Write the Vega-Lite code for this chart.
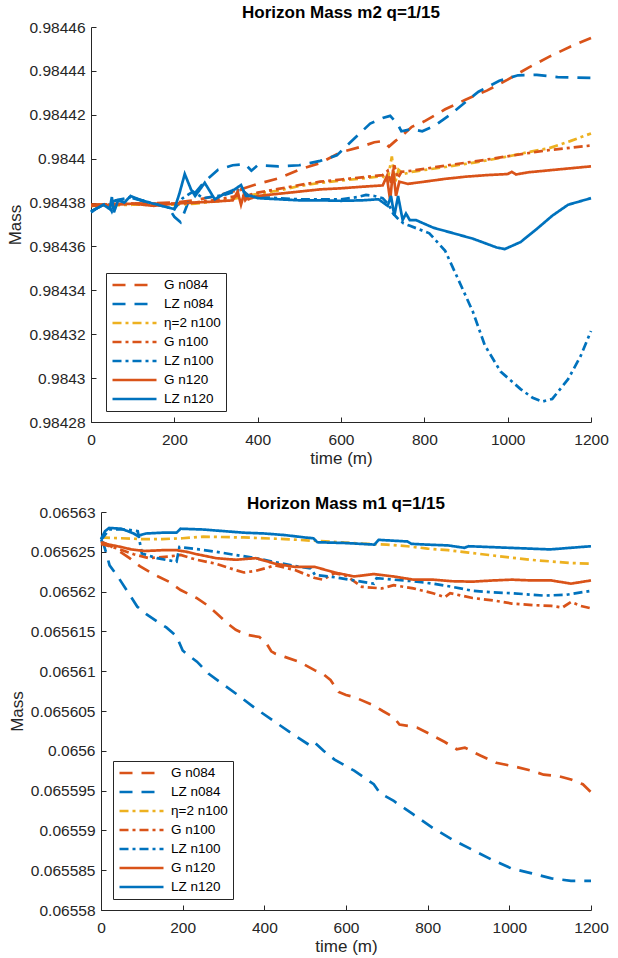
{
  "$schema": "https://vega.github.io/schema/vega-lite/v6.json",
  "background": "white",
  "padding": {"left": 6, "top": 4, "right": 8, "bottom": 4},
  "spacing": 28,
  "config": {
    "font": "Liberation Sans",
    "view": {"stroke": null},
    "axis": {
      "grid": false,
      "labelFlush": false,
      "domainColor": "#262626",
      "tickColor": "#262626",
      "labelColor": "#262626",
      "titleColor": "#262626",
      "labelFont": "Liberation Sans",
      "titleFont": "Liberation Sans",
      "labelFontSize": 15.5,
      "titleFontSize": 17,
      "titleFontWeight": "normal",
      "tickSize": -5,
      "domainWidth": 1,
      "tickWidth": 1
    },
    "title": {"font": "Liberation Sans", "fontSize": 17, "fontWeight": "bold", "color": "#000000"},
    "legend": {
      "title": null,
      "orient": "none",
      "symbolType": "M-1,0H7",
      "symbolSize": 121,
      "symbolStrokeWidth": 2.7,
      "labelFont": "Liberation Sans",
      "labelFontSize": 13.5,
      "labelColor": "#000000",
      "labelOffset": 39,
      "padding": 5,
      "rowPadding": 5,
      "strokeColor": "#262626",
      "fillColor": "white"
    },
    "line": {"strokeWidth": 2.7, "strokeCap": "butt", "clip": true}
  },
  "datasets": {
    "m2": [
      {"s":"G n084","t":0,"m":0.984379},{"s":"G n084","t":100,"m":0.9843795},{"s":"G n084","t":200,"m":0.98438},{"s":"G n084","t":250,"m":0.984381},{"s":"G n084","t":300,"m":0.984383},{"s":"G n084","t":350,"m":0.9843855},{"s":"G n084","t":400,"m":0.9843885},{"s":"G n084","t":450,"m":0.984391},{"s":"G n084","t":500,"m":0.984395},{"s":"G n084","t":550,"m":0.984398},{"s":"G n084","t":600,"m":0.984403},{"s":"G n084","t":650,"m":0.9844055},{"s":"G n084","t":680,"m":0.9844075},{"s":"G n084","t":700,"m":0.984408},{"s":"G n084","t":715,"m":0.9844055},{"s":"G n084","t":730,"m":0.984408},{"s":"G n084","t":750,"m":0.984411},{"s":"G n084","t":770,"m":0.9844145},{"s":"G n084","t":800,"m":0.984417},{"s":"G n084","t":850,"m":0.9844225},{"s":"G n084","t":900,"m":0.984427},{"s":"G n084","t":950,"m":0.984431},{"s":"G n084","t":1000,"m":0.984436},{"s":"G n084","t":1050,"m":0.9844415},{"s":"G n084","t":1100,"m":0.9844465},{"s":"G n084","t":1150,"m":0.984451},{"s":"G n084","t":1200,"m":0.984455},

      {"s":"LZ n084","t":0,"m":0.984376},{"s":"LZ n084","t":30,"m":0.984379},{"s":"LZ n084","t":60,"m":0.984381},{"s":"LZ n084","t":100,"m":0.984382},{"s":"LZ n084","t":150,"m":0.9843795},{"s":"LZ n084","t":185,"m":0.984378},{"s":"LZ n084","t":200,"m":0.9843735},{"s":"LZ n084","t":215,"m":0.984371},{"s":"LZ n084","t":235,"m":0.984381},{"s":"LZ n084","t":270,"m":0.984389},{"s":"LZ n084","t":305,"m":0.984395},{"s":"LZ n084","t":340,"m":0.984397},{"s":"LZ n084","t":370,"m":0.9843975},{"s":"LZ n084","t":385,"m":0.9843945},{"s":"LZ n084","t":400,"m":0.984397},{"s":"LZ n084","t":450,"m":0.9843965},{"s":"LZ n084","t":500,"m":0.984397},{"s":"LZ n084","t":550,"m":0.984399},{"s":"LZ n084","t":590,"m":0.9844015},{"s":"LZ n084","t":620,"m":0.984407},{"s":"LZ n084","t":670,"m":0.984416},{"s":"LZ n084","t":700,"m":0.9844185},{"s":"LZ n084","t":718,"m":0.9844195},{"s":"LZ n084","t":735,"m":0.984416},{"s":"LZ n084","t":745,"m":0.9844125},{"s":"LZ n084","t":770,"m":0.9844135},{"s":"LZ n084","t":795,"m":0.9844125},{"s":"LZ n084","t":825,"m":0.984415},{"s":"LZ n084","t":865,"m":0.9844205},{"s":"LZ n084","t":900,"m":0.984426},{"s":"LZ n084","t":930,"m":0.9844305},{"s":"LZ n084","t":980,"m":0.9844355},{"s":"LZ n084","t":1025,"m":0.984438},{"s":"LZ n084","t":1070,"m":0.9844382},{"s":"LZ n084","t":1120,"m":0.9844372},{"s":"LZ n084","t":1200,"m":0.9844368},

      {"s":"η=2 n100","t":0,"m":0.9843785},{"s":"η=2 n100","t":100,"m":0.984379},{"s":"η=2 n100","t":200,"m":0.984379},{"s":"η=2 n100","t":250,"m":0.9843795},{"s":"η=2 n100","t":300,"m":0.9843805},{"s":"η=2 n100","t":350,"m":0.984382},{"s":"η=2 n100","t":400,"m":0.984384},{"s":"η=2 n100","t":450,"m":0.9843855},{"s":"η=2 n100","t":500,"m":0.9843875},{"s":"η=2 n100","t":550,"m":0.984389},{"s":"η=2 n100","t":600,"m":0.98439},{"s":"η=2 n100","t":650,"m":0.984391},{"s":"η=2 n100","t":700,"m":0.984392},{"s":"η=2 n100","t":712,"m":0.98439},{"s":"η=2 n100","t":722,"m":0.984401},{"s":"η=2 n100","t":730,"m":0.984389},{"s":"η=2 n100","t":738,"m":0.984395},{"s":"η=2 n100","t":750,"m":0.984393},{"s":"η=2 n100","t":770,"m":0.984394},{"s":"η=2 n100","t":850,"m":0.9843962},{"s":"η=2 n100","t":930,"m":0.9843985},{"s":"η=2 n100","t":1000,"m":0.984401},{"s":"η=2 n100","t":1050,"m":0.984403},{"s":"η=2 n100","t":1100,"m":0.9844048},{"s":"η=2 n100","t":1150,"m":0.984408},{"s":"η=2 n100","t":1200,"m":0.9844115},

      {"s":"G n100","t":0,"m":0.984379},{"s":"G n100","t":100,"m":0.9843795},{"s":"G n100","t":200,"m":0.9843795},{"s":"G n100","t":250,"m":0.98438},{"s":"G n100","t":300,"m":0.9843812},{"s":"G n100","t":350,"m":0.984383},{"s":"G n100","t":360,"m":0.984386},{"s":"G n100","t":370,"m":0.984381},{"s":"G n100","t":380,"m":0.9843835},{"s":"G n100","t":400,"m":0.9843845},{"s":"G n100","t":450,"m":0.9843862},{"s":"G n100","t":500,"m":0.984388},{"s":"G n100","t":550,"m":0.9843895},{"s":"G n100","t":600,"m":0.9843905},{"s":"G n100","t":650,"m":0.9843915},{"s":"G n100","t":700,"m":0.9843925},{"s":"G n100","t":712,"m":0.9843945},{"s":"G n100","t":720,"m":0.984389},{"s":"G n100","t":728,"m":0.984397},{"s":"G n100","t":736,"m":0.984391},{"s":"G n100","t":745,"m":0.984394},{"s":"G n100","t":770,"m":0.9843945},{"s":"G n100","t":850,"m":0.9843968},{"s":"G n100","t":930,"m":0.984399},{"s":"G n100","t":1010,"m":0.9844014},{"s":"G n100","t":1090,"m":0.9844037},{"s":"G n100","t":1200,"m":0.984406},

      {"s":"LZ n100","t":0,"m":0.984376},{"s":"LZ n100","t":20,"m":0.984378},{"s":"LZ n100","t":40,"m":0.98438},{"s":"LZ n100","t":50,"m":0.984376},{"s":"LZ n100","t":60,"m":0.984381},{"s":"LZ n100","t":95,"m":0.9843825},{"s":"LZ n100","t":150,"m":0.9843795},{"s":"LZ n100","t":200,"m":0.984377},{"s":"LZ n100","t":220,"m":0.984382},{"s":"LZ n100","t":245,"m":0.984385},{"s":"LZ n100","t":270,"m":0.984382},{"s":"LZ n100","t":320,"m":0.9843835},{"s":"LZ n100","t":360,"m":0.984386},{"s":"LZ n100","t":380,"m":0.984383},{"s":"LZ n100","t":400,"m":0.9843825},{"s":"LZ n100","t":500,"m":0.9843815},{"s":"LZ n100","t":600,"m":0.9843815},{"s":"LZ n100","t":640,"m":0.9843825},{"s":"LZ n100","t":660,"m":0.9843835},{"s":"LZ n100","t":680,"m":0.984383},{"s":"LZ n100","t":700,"m":0.984382},{"s":"LZ n100","t":715,"m":0.984379},{"s":"LZ n100","t":725,"m":0.984375},{"s":"LZ n100","t":735,"m":0.984373},{"s":"LZ n100","t":750,"m":0.9843705},{"s":"LZ n100","t":764,"m":0.9843695},{"s":"LZ n100","t":812,"m":0.984366},{"s":"LZ n100","t":850,"m":0.984358},{"s":"LZ n100","t":879,"m":0.984346},{"s":"LZ n100","t":917,"m":0.98433},{"s":"LZ n100","t":945,"m":0.984315},{"s":"LZ n100","t":983,"m":0.984303},{"s":"LZ n100","t":1031,"m":0.984295},{"s":"LZ n100","t":1060,"m":0.984291},{"s":"LZ n100","t":1083,"m":0.9842893},{"s":"LZ n100","t":1107,"m":0.9842905},{"s":"LZ n100","t":1145,"m":0.9842995},{"s":"LZ n100","t":1175,"m":0.98431},{"s":"LZ n100","t":1200,"m":0.9843215},

      {"s":"G n120","t":0,"m":0.9843785},{"s":"G n120","t":50,"m":0.984379},{"s":"G n120","t":100,"m":0.9843795},{"s":"G n120","t":150,"m":0.9843785},{"s":"G n120","t":200,"m":0.9843795},{"s":"G n120","t":250,"m":0.98438},{"s":"G n120","t":300,"m":0.9843805},{"s":"G n120","t":340,"m":0.984381},{"s":"G n120","t":352,"m":0.984385},{"s":"G n120","t":360,"m":0.984379},{"s":"G n120","t":368,"m":0.9843845},{"s":"G n120","t":378,"m":0.9843815},{"s":"G n120","t":400,"m":0.984383},{"s":"G n120","t":450,"m":0.984384},{"s":"G n120","t":500,"m":0.984385},{"s":"G n120","t":550,"m":0.984386},{"s":"G n120","t":600,"m":0.9843865},{"s":"G n120","t":650,"m":0.9843872},{"s":"G n120","t":700,"m":0.9843878},{"s":"G n120","t":710,"m":0.984392},{"s":"G n120","t":718,"m":0.984381},{"s":"G n120","t":725,"m":0.984395},{"s":"G n120","t":732,"m":0.984383},{"s":"G n120","t":740,"m":0.9843895},{"s":"G n120","t":760,"m":0.9843885},{"s":"G n120","t":800,"m":0.9843895},{"s":"G n120","t":850,"m":0.9843908},{"s":"G n120","t":900,"m":0.9843918},{"s":"G n120","t":950,"m":0.9843925},{"s":"G n120","t":1000,"m":0.984393},{"s":"G n120","t":1010,"m":0.984394},{"s":"G n120","t":1020,"m":0.9843928},{"s":"G n120","t":1050,"m":0.9843938},{"s":"G n120","t":1100,"m":0.9843947},{"s":"G n120","t":1150,"m":0.9843956},{"s":"G n120","t":1200,"m":0.9843965},

      {"s":"LZ n120","t":0,"m":0.9843755},{"s":"LZ n120","t":15,"m":0.9843775},{"s":"LZ n120","t":30,"m":0.984379},{"s":"LZ n120","t":45,"m":0.984377},{"s":"LZ n120","t":50,"m":0.9843825},{"s":"LZ n120","t":55,"m":0.9843755},{"s":"LZ n120","t":65,"m":0.984381},{"s":"LZ n120","t":80,"m":0.98438},{"s":"LZ n120","t":95,"m":0.984383},{"s":"LZ n120","t":120,"m":0.984381},{"s":"LZ n120","t":150,"m":0.9843795},{"s":"LZ n120","t":180,"m":0.984378},{"s":"LZ n120","t":200,"m":0.984377},{"s":"LZ n120","t":212,"m":0.984384},{"s":"LZ n120","t":225,"m":0.984393},{"s":"LZ n120","t":240,"m":0.984386},{"s":"LZ n120","t":250,"m":0.984383},{"s":"LZ n120","t":273,"m":0.984389},{"s":"LZ n120","t":297,"m":0.9843815},{"s":"LZ n120","t":320,"m":0.984384},{"s":"LZ n120","t":345,"m":0.984386},{"s":"LZ n120","t":360,"m":0.984388},{"s":"LZ n120","t":372,"m":0.984383},{"s":"LZ n120","t":385,"m":0.984383},{"s":"LZ n120","t":400,"m":0.984382},{"s":"LZ n120","t":450,"m":0.9843815},{"s":"LZ n120","t":500,"m":0.984381},{"s":"LZ n120","t":550,"m":0.984381},{"s":"LZ n120","t":600,"m":0.9843808},{"s":"LZ n120","t":650,"m":0.984381},{"s":"LZ n120","t":690,"m":0.9843815},{"s":"LZ n120","t":712,"m":0.9843785},{"s":"LZ n120","t":720,"m":0.984383},{"s":"LZ n120","t":728,"m":0.984374},{"s":"LZ n120","t":737,"m":0.984383},{"s":"LZ n120","t":748,"m":0.984372},{"s":"LZ n120","t":756,"m":0.984375},{"s":"LZ n120","t":765,"m":0.984372},{"s":"LZ n120","t":780,"m":0.984372},{"s":"LZ n120","t":822,"m":0.9843685},{"s":"LZ n120","t":870,"m":0.984366},{"s":"LZ n120","t":917,"m":0.9843635},{"s":"LZ n120","t":974,"m":0.9843595},{"s":"LZ n120","t":993,"m":0.9843588},{"s":"LZ n120","t":1031,"m":0.984362},{"s":"LZ n120","t":1070,"m":0.984368},{"s":"LZ n120","t":1107,"m":0.984374},{"s":"LZ n120","t":1145,"m":0.984379},{"s":"LZ n120","t":1200,"m":0.984382}
    ],
    "m1": [
      {"s":"G n084","t":0,"m":0.0656263},{"s":"G n084","t":20,"m":0.0656258},{"s":"G n084","t":41,"m":0.0656252},{"s":"G n084","t":70,"m":0.0656242},{"s":"G n084","t":95,"m":0.0656232},{"s":"G n084","t":118,"m":0.0656225},{"s":"G n084","t":140,"m":0.0656219},{"s":"G n084","t":166,"m":0.06562125},{"s":"G n084","t":195,"m":0.0656202},{"s":"G n084","t":234,"m":0.0656192},{"s":"G n084","t":260,"m":0.0656183},{"s":"G n084","t":282,"m":0.0656173},{"s":"G n084","t":310,"m":0.065616},{"s":"G n084","t":330,"m":0.0656152},{"s":"G n084","t":355,"m":0.0656146},{"s":"G n084","t":388,"m":0.0656143},{"s":"G n084","t":405,"m":0.0656135},{"s":"G n084","t":417,"m":0.0656125},{"s":"G n084","t":427,"m":0.0656122},{"s":"G n084","t":450,"m":0.0656118},{"s":"G n084","t":485,"m":0.0656112},{"s":"G n084","t":524,"m":0.0656101},{"s":"G n084","t":545,"m":0.0656096},{"s":"G n084","t":562,"m":0.0656089},{"s":"G n084","t":582,"m":0.0656074},{"s":"G n084","t":600,"m":0.065607},{"s":"G n084","t":620,"m":0.06560675},{"s":"G n084","t":668,"m":0.0656057},{"s":"G n084","t":690,"m":0.065605},{"s":"G n084","t":717,"m":0.0656042},{"s":"G n084","t":731,"m":0.0656033},{"s":"G n084","t":755,"m":0.0656031},{"s":"G n084","t":775,"m":0.0656029},{"s":"G n084","t":813,"m":0.0656019},{"s":"G n084","t":842,"m":0.0656011},{"s":"G n084","t":871,"m":0.0656002},{"s":"G n084","t":891,"m":0.0656004},{"s":"G n084","t":929,"m":0.0655994},{"s":"G n084","t":968,"m":0.0655985},{"s":"G n084","t":1006,"m":0.0655981},{"s":"G n084","t":1055,"m":0.0655975},{"s":"G n084","t":1084,"m":0.065597},{"s":"G n084","t":1122,"m":0.0655968},{"s":"G n084","t":1151,"m":0.0655964},{"s":"G n084","t":1180,"m":0.0655958},{"s":"G n084","t":1200,"m":0.0655948},

      {"s":"LZ n084","t":0,"m":0.0656265},{"s":"LZ n084","t":6,"m":0.065626},{"s":"LZ n084","t":12,"m":0.065625},{"s":"LZ n084","t":21,"m":0.0656233},{"s":"LZ n084","t":41,"m":0.0656219},{"s":"LZ n084","t":65,"m":0.06562},{"s":"LZ n084","t":89,"m":0.0656181},{"s":"LZ n084","t":110,"m":0.0656172},{"s":"LZ n084","t":137,"m":0.06561625},{"s":"LZ n084","t":160,"m":0.0656155},{"s":"LZ n084","t":185,"m":0.0656144},{"s":"LZ n084","t":200,"m":0.0656126},{"s":"LZ n084","t":214,"m":0.065612},{"s":"LZ n084","t":235,"m":0.0656112},{"s":"LZ n084","t":263,"m":0.0656097},{"s":"LZ n084","t":300,"m":0.0656083},{"s":"LZ n084","t":330,"m":0.0656072},{"s":"LZ n084","t":379,"m":0.0656053},{"s":"LZ n084","t":427,"m":0.0656036},{"s":"LZ n084","t":475,"m":0.0656019},{"s":"LZ n084","t":514,"m":0.0656006},{"s":"LZ n084","t":524,"m":0.065601},{"s":"LZ n084","t":545,"m":0.0656},{"s":"LZ n084","t":572,"m":0.0655989},{"s":"LZ n084","t":620,"m":0.0655975},{"s":"LZ n084","t":668,"m":0.0655958},{"s":"LZ n084","t":683,"m":0.0655947},{"s":"LZ n084","t":717,"m":0.0655937},{"s":"LZ n084","t":765,"m":0.065592},{"s":"LZ n084","t":813,"m":0.0655903},{"s":"LZ n084","t":862,"m":0.0655888},{"s":"LZ n084","t":910,"m":0.06558755},{"s":"LZ n084","t":958,"m":0.0655863},{"s":"LZ n084","t":1006,"m":0.0655852},{"s":"LZ n084","t":1055,"m":0.0655846},{"s":"LZ n084","t":1103,"m":0.06558397},{"s":"LZ n084","t":1151,"m":0.06558367},{"s":"LZ n084","t":1200,"m":0.06558367},

      {"s":"η=2 n100","t":0,"m":0.0656268},{"s":"η=2 n100","t":50,"m":0.0656267},{"s":"η=2 n100","t":100,"m":0.0656266},{"s":"η=2 n100","t":150,"m":0.0656266},{"s":"η=2 n100","t":200,"m":0.0656267},{"s":"η=2 n100","t":250,"m":0.0656269},{"s":"η=2 n100","t":350,"m":0.0656268},{"s":"η=2 n100","t":450,"m":0.0656266},{"s":"η=2 n100","t":550,"m":0.0656263},{"s":"η=2 n100","t":650,"m":0.065626},{"s":"η=2 n100","t":700,"m":0.0656259},{"s":"η=2 n100","t":750,"m":0.0656257},{"s":"η=2 n100","t":800,"m":0.0656254},{"s":"η=2 n100","t":850,"m":0.0656252},{"s":"η=2 n100","t":900,"m":0.0656249},{"s":"η=2 n100","t":950,"m":0.0656246},{"s":"η=2 n100","t":1000,"m":0.0656243},{"s":"η=2 n100","t":1050,"m":0.065624},{"s":"η=2 n100","t":1100,"m":0.0656238},{"s":"η=2 n100","t":1150,"m":0.0656236},{"s":"η=2 n100","t":1200,"m":0.0656235},

      {"s":"G n100","t":0,"m":0.065626},{"s":"G n100","t":41,"m":0.0656254},{"s":"G n100","t":80,"m":0.0656247},{"s":"G n100","t":118,"m":0.0656242},{"s":"G n100","t":166,"m":0.0656244},{"s":"G n100","t":195,"m":0.0656246},{"s":"G n100","t":234,"m":0.065624},{"s":"G n100","t":282,"m":0.0656235},{"s":"G n100","t":330,"m":0.0656227},{"s":"G n100","t":350,"m":0.0656224},{"s":"G n100","t":379,"m":0.0656226},{"s":"G n100","t":427,"m":0.0656233},{"s":"G n100","t":475,"m":0.0656227},{"s":"G n100","t":524,"m":0.0656217},{"s":"G n100","t":543,"m":0.0656215},{"s":"G n100","t":572,"m":0.0656223},{"s":"G n100","t":600,"m":0.065622},{"s":"G n100","t":639,"m":0.0656206},{"s":"G n100","t":688,"m":0.0656204},{"s":"G n100","t":717,"m":0.0656208},{"s":"G n100","t":765,"m":0.0656204},{"s":"G n100","t":813,"m":0.0656198},{"s":"G n100","t":842,"m":0.0656193},{"s":"G n100","t":855,"m":0.0656198},{"s":"G n100","t":910,"m":0.0656192},{"s":"G n100","t":960,"m":0.0656189},{"s":"G n100","t":1006,"m":0.0656185},{"s":"G n100","t":1060,"m":0.0656183},{"s":"G n100","t":1103,"m":0.0656182},{"s":"G n100","t":1130,"m":0.065618},{"s":"G n100","t":1151,"m":0.0656187},{"s":"G n100","t":1175,"m":0.0656182},{"s":"G n100","t":1200,"m":0.0656179},

      {"s":"LZ n100","t":0,"m":0.0656265},{"s":"LZ n100","t":20,"m":0.0656278},{"s":"LZ n100","t":60,"m":0.0656278},{"s":"LZ n100","t":90,"m":0.0656276},{"s":"LZ n100","t":100,"m":0.0656248},{"s":"LZ n100","t":137,"m":0.0656242},{"s":"LZ n100","t":185,"m":0.06562375},{"s":"LZ n100","t":192,"m":0.0656256},{"s":"LZ n100","t":240,"m":0.0656253},{"s":"LZ n100","t":282,"m":0.065625},{"s":"LZ n100","t":330,"m":0.0656246},{"s":"LZ n100","t":379,"m":0.0656242},{"s":"LZ n100","t":427,"m":0.0656237},{"s":"LZ n100","t":475,"m":0.0656232},{"s":"LZ n100","t":514,"m":0.0656229},{"s":"LZ n100","t":524,"m":0.0656221},{"s":"LZ n100","t":572,"m":0.0656218},{"s":"LZ n100","t":620,"m":0.0656214},{"s":"LZ n100","t":668,"m":0.065621},{"s":"LZ n100","t":675,"m":0.0656217},{"s":"LZ n100","t":717,"m":0.0656215},{"s":"LZ n100","t":765,"m":0.0656213},{"s":"LZ n100","t":813,"m":0.065621},{"s":"LZ n100","t":860,"m":0.0656206},{"s":"LZ n100","t":910,"m":0.0656201},{"s":"LZ n100","t":960,"m":0.0656199},{"s":"LZ n100","t":1006,"m":0.0656198},{"s":"LZ n100","t":1084,"m":0.0656195},{"s":"LZ n100","t":1140,"m":0.0656196},{"s":"LZ n100","t":1200,"m":0.0656201},

      {"s":"G n120","t":0,"m":0.0656262},{"s":"G n120","t":20,"m":0.0656259},{"s":"G n120","t":50,"m":0.0656256},{"s":"G n120","t":74,"m":0.0656253},{"s":"G n120","t":107,"m":0.0656251},{"s":"G n120","t":150,"m":0.0656252},{"s":"G n120","t":185,"m":0.0656252},{"s":"G n120","t":210,"m":0.065625},{"s":"G n120","t":234,"m":0.0656247},{"s":"G n120","t":282,"m":0.0656242},{"s":"G n120","t":330,"m":0.065624},{"s":"G n120","t":379,"m":0.0656242},{"s":"G n120","t":427,"m":0.0656235},{"s":"G n120","t":475,"m":0.0656231},{"s":"G n120","t":524,"m":0.0656231},{"s":"G n120","t":572,"m":0.0656224},{"s":"G n120","t":620,"m":0.0656219},{"s":"G n120","t":668,"m":0.0656222},{"s":"G n120","t":717,"m":0.0656219},{"s":"G n120","t":765,"m":0.0656215},{"s":"G n120","t":813,"m":0.0656215},{"s":"G n120","t":860,"m":0.0656213},{"s":"G n120","t":910,"m":0.06562125},{"s":"G n120","t":960,"m":0.0656214},{"s":"G n120","t":1006,"m":0.0656215},{"s":"G n120","t":1055,"m":0.0656214},{"s":"G n120","t":1103,"m":0.0656214},{"s":"G n120","t":1151,"m":0.065621},{"s":"G n120","t":1200,"m":0.0656214},

      {"s":"LZ n120","t":0,"m":0.0656266},{"s":"LZ n120","t":10,"m":0.0656276},{"s":"LZ n120","t":20,"m":0.065628},{"s":"LZ n120","t":50,"m":0.0656279},{"s":"LZ n120","t":80,"m":0.0656273},{"s":"LZ n120","t":90,"m":0.065627},{"s":"LZ n120","t":110,"m":0.0656273},{"s":"LZ n120","t":150,"m":0.0656274},{"s":"LZ n120","t":185,"m":0.0656274},{"s":"LZ n120","t":195,"m":0.0656279},{"s":"LZ n120","t":250,"m":0.0656278},{"s":"LZ n120","t":300,"m":0.0656276},{"s":"LZ n120","t":350,"m":0.0656274},{"s":"LZ n120","t":400,"m":0.0656273},{"s":"LZ n120","t":450,"m":0.0656271},{"s":"LZ n120","t":500,"m":0.0656268},{"s":"LZ n120","t":520,"m":0.0656267},{"s":"LZ n120","t":530,"m":0.0656262},{"s":"LZ n120","t":600,"m":0.0656261},{"s":"LZ n120","t":670,"m":0.0656259},{"s":"LZ n120","t":680,"m":0.0656265},{"s":"LZ n120","t":750,"m":0.0656263},{"s":"LZ n120","t":760,"m":0.065626},{"s":"LZ n120","t":800,"m":0.0656259},{"s":"LZ n120","t":850,"m":0.0656258},{"s":"LZ n120","t":890,"m":0.0656255},{"s":"LZ n120","t":900,"m":0.0656257},{"s":"LZ n120","t":950,"m":0.0656256},{"s":"LZ n120","t":1000,"m":0.0656255},{"s":"LZ n120","t":1050,"m":0.0656254},{"s":"LZ n120","t":1100,"m":0.0656253},{"s":"LZ n120","t":1150,"m":0.0656255},{"s":"LZ n120","t":1200,"m":0.0656257}
    ]
  },
  "vconcat": [
    {
      "title": {"text": "Horizon Mass m2 q=1/15", "offset": -2},
      "width": 500,
      "height": 395,
      "data": {"name": "m2"},
      "mark": {"type": "line"},
      "encoding": {
        "x": {
          "field": "t", "type": "quantitative",
          "scale": {"domain": [0, 1200], "nice": false},
          "axis": {"title": "time (m)", "format": "d", "values": [0, 200, 400, 600, 800, 1000, 1200], "labelPadding": 15, "titlePadding": 3}
        },
        "y": {
          "field": "m", "type": "quantitative",
          "scale": {"domain": [0.98428, 0.98446], "nice": false, "zero": false},
          "axis": {"title": "Mass", "format": ".5~f", "values": [0.98428, 0.9843, 0.98432, 0.98434, 0.98436, 0.98438, 0.9844, 0.98442, 0.98444, 0.98446], "labelPadding": 11, "titlePadding": 4}
        },
        "color": {
          "field": "s", "type": "nominal",
          "scale": {"domain": ["G n084", "LZ n084", "η=2 n100", "G n100", "LZ n100", "G n120", "LZ n120"], "range": ["#D95319", "#0072BD", "#EDB120", "#D95319", "#0072BD", "#D95319", "#0072BD"]},
          "legend": {"legendX": 15, "legendY": 246}
        },
        "strokeDash": {
          "field": "s", "type": "nominal",
          "scale": {"domain": ["G n084", "LZ n084", "η=2 n100", "G n100", "LZ n100", "G n120", "LZ n120"], "range": [[13, 9], [13, 9], [9, 4, 3, 4], [9, 4, 3, 4], [9, 4, 3, 4], [1, 0], [1, 0]]},
          "legend": {"legendX": 15, "legendY": 246}
        }
      }
    },
    {
      "title": {"text": "Horizon Mass m1 q=1/15", "offset": -8, "dx": 5},
      "width": 500,
      "height": 398,
      "data": {"name": "m1"},
      "mark": {"type": "line"},
      "encoding": {
        "x": {
          "field": "t", "type": "quantitative",
          "scale": {"domain": [0, 1200], "range": [10, 500], "nice": false},
          "axis": {"title": "time (m)", "format": "d", "values": [0, 200, 400, 600, 800, 1000, 1200], "labelPadding": 15, "titlePadding": 3}
        },
        "y": {
          "field": "m", "type": "quantitative",
          "scale": {"domain": [0.06558, 0.06563], "nice": false, "zero": false},
          "axis": {"title": "Mass", "format": ".6~f", "offset": -10, "values": [0.06558, 0.065585, 0.06559, 0.065595, 0.0656, 0.065605, 0.06561, 0.065615, 0.06562, 0.065625, 0.06563], "labelPadding": 11, "titlePadding": 4}
        },
        "color": {
          "field": "s", "type": "nominal",
          "scale": {"domain": ["G n084", "LZ n084", "η=2 n100", "G n100", "LZ n100", "G n120", "LZ n120"], "range": ["#D95319", "#0072BD", "#EDB120", "#D95319", "#0072BD", "#D95319", "#0072BD"]},
          "legend": {"legendX": 22, "legendY": 249}
        },
        "strokeDash": {
          "field": "s", "type": "nominal",
          "scale": {"domain": ["G n084", "LZ n084", "η=2 n100", "G n100", "LZ n100", "G n120", "LZ n120"], "range": [[13, 9], [13, 9], [9, 4, 3, 4], [9, 4, 3, 4], [9, 4, 3, 4], [1, 0], [1, 0]]},
          "legend": {"legendX": 22, "legendY": 249}
        }
      }
    }
  ],
  "resolve": {"scale": {"color": "independent", "strokeDash": "independent", "x": "independent", "y": "independent"}, "legend": {"color": "independent", "strokeDash": "independent"}}
}
